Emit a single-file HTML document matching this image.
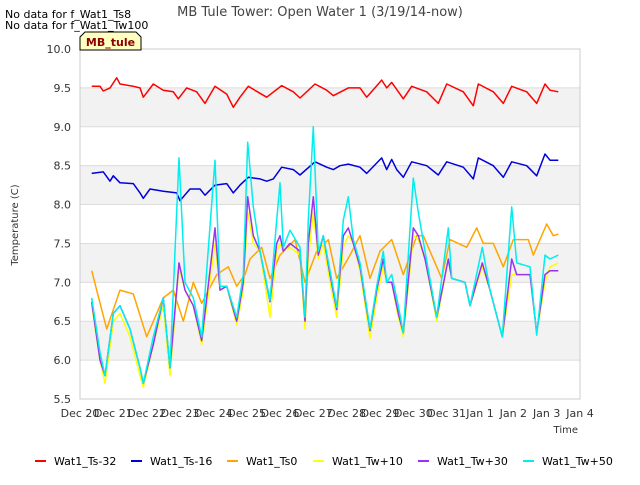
<!DOCTYPE html>
<html><head><meta charset="utf-8"><style>
body{margin:0;background:#fff;font-family:"Liberation Sans","DejaVu Sans",sans-serif}
svg text{font-family:"DejaVu Sans","Liberation Sans",sans-serif}
</style></head><body>
<svg id="c" width="640" height="480" xmlns="http://www.w3.org/2000/svg">
<rect width="640" height="480" fill="#fff"/>
<text x="320" y="16" text-anchor="middle" font-size="13" fill="#444">MB Tule Tower: Open Water 1 (3/19/14-now)</text>
<text x="5" y="18" font-size="11" fill="#000">No data for f_Wat1_Ts8</text>
<text x="5" y="29" font-size="11" fill="#000">No data for f_Wat1_Tw100</text>
<g id="plot"></g>
<g><path d="M80,50 L80,37 L85,32 L136,32 L141,37 L141,50 Z" fill="#ffffc0" stroke="#000" stroke-width="1"/>
<text x="110.5" y="46" text-anchor="middle" font-size="11" font-weight="bold" fill="#8b0000">MB_tule</text></g>
<text x="18" y="225" font-size="10" fill="#333" transform="rotate(-90 18 225)" text-anchor="middle">Temperature (C)</text>
<text x="578" y="433" font-size="10" fill="#333" text-anchor="end">Time</text>
<g id="legend"></g>
</svg>
<script>
const yTicks=[5.5,6.0,6.5,7.0,7.5,8.0,8.5,9.0,9.5,10.0];
const xLabels=["Dec 20","Dec 21","Dec 22","Dec 23","Dec 24","Dec 25","Dec 26","Dec 27","Dec 28","Dec 29","Dec 30","Dec 31","Jan 1","Jan 2","Jan 3","Jan 4"];
const redT=[0.35,0.6,0.7,0.9,1.1,1.2,1.6,1.8,1.9,2.2,2.5,2.8,2.95,3.2,3.5,3.75,4.05,4.4,4.6,4.8,5.05,5.4,5.6,6.05,6.4,6.6,7.05,7.4,7.6,8.05,8.4,8.6,9.05,9.2,9.35,9.5,9.7,9.95,10.4,10.75,11.0,11.5,11.8,11.95,12.4,12.7,12.95,13.4,13.7,13.95,14.1,14.35];
const redV=[9.52,9.52,9.46,9.5,9.63,9.55,9.52,9.5,9.38,9.55,9.47,9.45,9.36,9.5,9.45,9.3,9.52,9.42,9.25,9.38,9.52,9.43,9.38,9.53,9.45,9.37,9.55,9.47,9.4,9.5,9.5,9.38,9.6,9.5,9.57,9.48,9.36,9.52,9.45,9.3,9.55,9.45,9.27,9.55,9.45,9.3,9.52,9.45,9.3,9.55,9.47,9.45];
const blueT=[0.35,0.7,0.9,1.0,1.2,1.6,1.8,1.9,2.1,2.5,2.9,3.0,3.3,3.6,3.75,4.05,4.4,4.6,4.8,5.05,5.4,5.6,5.8,6.05,6.4,6.6,7.05,7.4,7.6,7.8,8.05,8.4,8.6,9.05,9.2,9.35,9.5,9.7,9.95,10.4,10.75,11.0,11.5,11.8,11.95,12.4,12.7,12.95,13.4,13.7,13.95,14.1,14.35];
const blueV=[8.4,8.42,8.3,8.37,8.28,8.27,8.15,8.08,8.2,8.17,8.15,8.05,8.2,8.2,8.12,8.25,8.27,8.15,8.25,8.35,8.33,8.3,8.33,8.48,8.45,8.38,8.55,8.48,8.45,8.5,8.52,8.48,8.4,8.6,8.45,8.58,8.45,8.35,8.55,8.5,8.38,8.55,8.48,8.33,8.6,8.5,8.35,8.55,8.5,8.37,8.65,8.57,8.57];
const orT=[0.35,0.8,1.2,1.6,2.0,2.5,2.8,3.1,3.4,3.65,4.1,4.45,4.7,4.95,5.1,5.45,5.7,6.0,6.45,6.75,7.1,7.45,7.7,8.1,8.4,8.7,9.0,9.35,9.7,9.9,10.1,10.3,10.85,11.1,11.6,11.9,12.1,12.4,12.7,13.0,13.45,13.6,14.0,14.2,14.35];
const orV=[7.15,6.4,6.9,6.85,6.3,6.8,6.9,6.5,7.0,6.73,7.1,7.2,6.95,7.1,7.3,7.45,7.05,7.35,7.55,7.0,7.4,7.55,7.05,7.35,7.6,7.05,7.4,7.55,7.1,7.35,7.6,7.6,7.05,7.55,7.45,7.7,7.5,7.5,7.2,7.55,7.55,7.35,7.75,7.6,7.62];
const twT=[0.35,0.6,0.75,1.0,1.2,1.5,1.8,1.9,2.2,2.5,2.7,2.97,3.15,3.4,3.65,4.05,4.2,4.4,4.7,4.9,5.03,5.2,5.4,5.7,5.9,6.0,6.1,6.3,6.6,6.75,6.85,7.0,7.15,7.3,7.5,7.7,7.9,8.05,8.2,8.4,8.7,8.9,9.1,9.2,9.35,9.55,9.7,10.0,10.15,10.35,10.7,11.05,11.15,11.55,11.7,12.07,12.3,12.67,12.95,13.1,13.5,13.7,13.95,14.1,14.35];
const tw10V=[6.7,6.0,5.7,6.5,6.6,6.3,5.8,5.65,6.2,6.7,5.8,7.2,6.9,6.7,6.2,7.5,6.9,6.95,6.45,6.9,7.9,7.5,7.4,6.55,7.4,7.5,7.4,7.45,7.35,6.4,7.3,7.9,7.3,7.5,7.0,6.55,7.45,7.6,7.5,7.15,6.28,6.8,7.2,7.0,7.0,6.55,6.3,7.6,7.55,7.3,6.5,7.3,7.05,7.0,6.7,7.2,6.9,6.3,7.1,7.1,7.1,6.35,7.0,7.2,7.25];
const tw30V=[6.75,6.0,5.8,6.6,6.7,6.4,5.9,5.7,6.2,6.8,5.9,7.25,6.9,6.7,6.25,7.7,6.9,6.95,6.5,7.0,8.1,7.6,7.4,6.75,7.5,7.6,7.4,7.5,7.4,6.5,7.5,8.1,7.35,7.6,7.1,6.65,7.6,7.7,7.5,7.2,6.38,6.9,7.3,7.0,7.0,6.6,6.35,7.7,7.6,7.3,6.55,7.3,7.05,7.0,6.7,7.25,6.9,6.3,7.3,7.1,7.1,6.35,7.1,7.15,7.15];
const tw50V=[6.8,6.1,5.8,6.6,6.7,6.4,5.9,5.7,6.3,6.8,5.9,8.6,7.0,6.8,6.3,8.57,6.95,6.95,6.55,7.1,8.8,7.97,7.4,6.77,7.8,8.28,7.45,7.67,7.45,6.55,7.8,9.0,7.4,7.6,7.15,6.68,7.8,8.1,7.55,7.25,6.4,6.95,7.4,7.0,7.1,6.7,6.35,8.34,7.9,7.4,6.55,7.7,7.05,7.0,6.7,7.45,6.9,6.3,7.97,7.25,7.2,6.32,7.35,7.3,7.35];
const seriesNames=["Wat1_Ts-32","Wat1_Ts-16","Wat1_Ts0","Wat1_Tw+10","Wat1_Tw+30","Wat1_Tw+50"];
const NS="http://www.w3.org/2000/svg";
const X0=80,X1=580,Y0=49,Y1=399;
const xs=t=>X0+(X1-X0)*t/15;
const ys=v=>Y1-(Y1-Y0)*(v-5.5)/4.5;
const plot=document.getElementById('plot');
function mk(tag,attrs,parent){const e=document.createElementNS(NS,tag);for(const k in attrs)e.setAttribute(k,attrs[k]);parent.appendChild(e);return e;}
for(let i=0;i<yTicks.length-1;i++){
  if(i%2===1){const r=mk('rect',{x:X0,y:ys(yTicks[i+1]),width:X1-X0,height:ys(yTicks[i])-ys(yTicks[i+1]),fill:'#f2f2f2'},plot);
  
  }
}
yTicks.forEach(v=>{
  const l=mk('line',{x1:X0,x2:X1,y1:ys(v),y2:ys(v),stroke:'#dcdcdc','stroke-width':1},plot);
  
  
  const t=mk('text',{x:X0-9,y:ys(v)+4,'text-anchor':'end','font-size':11,fill:'#333'},plot);
  t.textContent=v.toFixed(1);
  
  
});
const fr=mk('rect',{x:X0,y:Y0,width:X1-X0,height:Y1-Y0,fill:'none',stroke:'#ccc'},plot);


xLabels.forEach((s,i)=>{
  const t=mk('text',{x:xs(i),y:Y1+18,'text-anchor':'middle','font-size':11,fill:'#333'},plot);
  t.textContent=s;
  
  
});
const cols=['#ff0000','#0000dd','#ffa500','#ffff00','#9933ee','#00eeee'];
const data=[[redT,redV],[blueT,blueV],[orT,orV],[twT,tw10V],[twT,tw30V],[twT,tw50V]];
const names=['series-ts-32','series-ts-16','series-ts0','series-tw10','series-tw30','series-tw50'];
data.forEach((d,k)=>{
  const pts=d[0].map((t,i)=>xs(t).toFixed(1)+','+ys(d[1][i]).toFixed(1)).join(' ');
  const p=mk('polyline',{points:pts,fill:'none',stroke:cols[k],'stroke-width':1.5,'stroke-linejoin':'round'},plot);
  
  
});
const lg=document.getElementById('legend');
const lx=[35,131,227,313,418,523];
seriesNames.forEach((s,i)=>{
  const g=mk('g',{},lg);
  
  
  mk('line',{x1:lx[i],x2:lx[i]+11,y1:461,y2:461,stroke:cols[i],'stroke-width':2},g);
  const t=mk('text',{x:lx[i]+19,y:465,'font-size':11,fill:'#000'},g);
  t.textContent=s;
});
</script>
</body></html>
